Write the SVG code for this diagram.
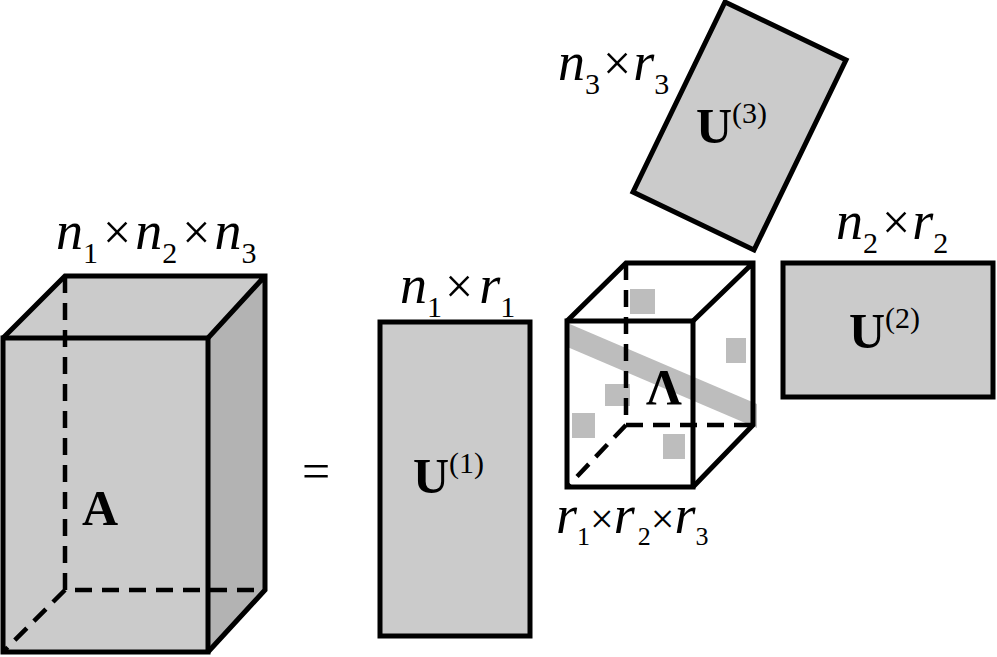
<svg xmlns="http://www.w3.org/2000/svg" width="997" height="657" viewBox="0 0 997 657">
<style>
.ln{stroke:#000;stroke-width:5;fill:none;stroke-linejoin:miter}
.dash{stroke:#000;stroke-width:4.5;fill:none;stroke-dasharray:17 10}
.f{fill:#cbcbcb}
.fd{fill:#b3b3b3}
.sq{fill:#bdbdbd}
text{font-family:"Liberation Serif","Times New Roman",serif;fill:#000}
.m{font-size:54px;font-style:italic}
.s{font-size:30px;font-style:normal}
.b{font-size:50px;font-weight:bold}
.p{font-size:30px;font-weight:normal}
.x{font-size:50px;font-style:normal}
.r .s{font-size:26px}
.r .x{font-size:42px}
</style>
<rect width="997" height="657" fill="#fff"/>

<g id="tensorA">
<polygon class="f" points="3,338 65,276 265,276 208,338"/>
<polygon class="fd" points="208,338 265,276 265,590 208,652"/>
<rect class="f" x="3" y="338" width="205" height="314"/>
<path class="dash" d="M65,276 V590 H265 M65,590 L3,652"/>
<path class="ln" d="M3,338 L65,276 H265 V590 L208,652 M208,338 L265,276"/>
<rect class="ln" x="3" y="338" width="205" height="314"/>
<text class="b" x="82" y="525">A</text>
<text x="56" y="249"><tspan class="m">n</tspan><tspan class="s" dy="14">1</tspan><tspan class="x" dx="5" dy="-14">×</tspan><tspan class="m" dx="4">n</tspan><tspan class="s" dy="14">2</tspan><tspan class="x" dx="5" dy="-14">×</tspan><tspan class="m" dx="4">n</tspan><tspan class="s" dy="14">3</tspan></text>
</g>

<g id="equals">
<text class="x" x="302" y="488">=</text>
</g>

<g id="U1">
<rect class="f" x="380" y="322" width="150" height="314"/>
<rect class="ln" x="380" y="322" width="150" height="314"/>
<text x="413" y="493"><tspan class="b">U</tspan><tspan class="p" dy="-20">(1)</tspan></text>
<text x="400" y="303"><tspan class="m">n</tspan><tspan class="s" dy="14">1</tspan><tspan class="x" dx="3" dy="-14">×</tspan><tspan class="m" dx="6">r</tspan><tspan class="s" dy="14">1</tspan></text>
</g>

<g id="core">
<polygon points="565,322 757,404 757,428 565,346" fill="#bdbdbd"/>
<rect class="sq" x="630" y="289" width="25" height="25"/>
<rect class="sq" x="726" y="338" width="20" height="25"/>
<rect class="sq" x="605" y="384" width="25" height="22"/>
<rect class="sq" x="572" y="413" width="23" height="25"/>
<rect class="sq" x="663" y="434" width="22" height="25"/>
<path class="dash" d="M626,263 V425 H753 M626,425 L567,487"/>
<path class="ln" d="M567,321 L626,263 H753 V425 L693,487 M693,321 L753,263"/>
<rect class="ln" x="567" y="321" width="126" height="166"/>
<text class="b" x="646" y="404">Λ</text>
<text class="r" x="556" y="533"><tspan class="m">r</tspan><tspan class="s" dy="12">1</tspan><tspan class="x" dy="-12">×</tspan><tspan class="m">r</tspan><tspan class="s" dx="3" dy="12">2</tspan><tspan class="x" dy="-12">×</tspan><tspan class="m">r</tspan><tspan class="s" dy="12">3</tspan></text>
</g>

<g id="U2">
<rect class="f" x="783" y="263" width="210" height="134"/>
<rect class="ln" x="783" y="263" width="210" height="134"/>
<text x="849" y="348"><tspan class="b">U</tspan><tspan class="p" dy="-20">(2)</tspan></text>
<text x="836" y="239"><tspan class="m">n</tspan><tspan class="s" dy="14">2</tspan><tspan class="x" dx="4" dy="-14">×</tspan><tspan class="m" dx="2">r</tspan><tspan class="s" dy="14">2</tspan></text>
</g>

<g id="U3">
<polygon class="f" points="725,2 846,60 754,250 633,192"/>
<polygon class="ln" points="725,2 846,60 754,250 633,192"/>
<text x="696" y="143"><tspan class="b">U</tspan><tspan class="p" dy="-20">(3)</tspan></text>
<text x="558" y="80"><tspan class="m">n</tspan><tspan class="s" dy="14">3</tspan><tspan class="x" dx="3" dy="-14">×</tspan><tspan class="m" dx="2">r</tspan><tspan class="s" dy="14">3</tspan></text>
</g>

<g id="connectors"></g>
</svg>
